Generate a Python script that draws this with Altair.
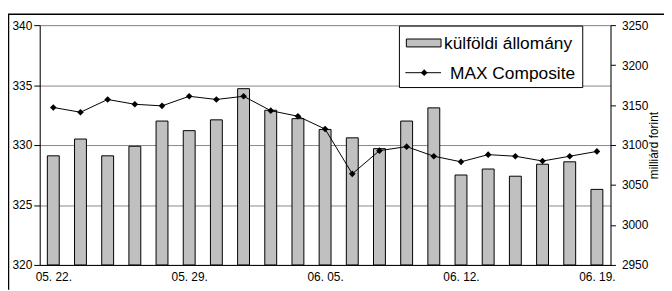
import altair as alt
import pandas as pd

dates = ["05. 22.", "05. 23.", "05. 24.", "05. 25.", "05. 26.",
         "05. 29.", "05. 30.", "05. 31.", "06. 01.", "06. 02.",
         "06. 05.", "06. 06.", "06. 07.", "06. 08.", "06. 09.",
         "06. 12.", "06. 13.", "06. 14.", "06. 15.", "06. 16.",
         "06. 19."]
holdings = [329.1, 330.5, 329.1, 329.9, 332.0, 331.2, 332.1, 334.7, 332.9, 332.2,
            331.3, 330.6, 329.7, 332.0, 333.1, 327.5, 328.0, 327.4, 328.4, 328.6,
            326.3]
max_composite = [3147, 3141, 3157, 3151, 3149, 3161, 3157, 3161, 3143, 3136,
                 3120, 3064, 3093, 3098, 3086, 3079, 3088, 3086, 3080, 3086,
                 3092]
tick_labels = ["05. 22.", "05. 29.", "06. 05.", "06. 12.", "06. 19."]
left_ticks = [320, 325, 330, 335, 340]
right_ticks = [2950, 3000, 3050, 3100, 3150, 3200, 3250]
series_names = ["külföldi állomány", "MAX Composite"]
right_title = "milliárd forint"

df = pd.DataFrame({"date": dates, "holdings": holdings, "max": max_composite})
df["base"] = left_ticks[0]
one = pd.DataFrame({"k": [0]})

FONT = "Liberation Sans"
W, H = 576, 242

x_enc = alt.X("date:O", sort=dates,
              scale=alt.Scale(type="point", padding=0.5),
              axis=alt.Axis(values=tick_labels, title=None, labelAngle=0, ticks=False,
                            labelPadding=7, domainColor="black", labelFontSize=12,
                            labelColor="black", labelFont=FONT, grid=False))

bars = alt.Chart(df).mark_bar(size=12, fill="#c0c0c0", stroke="black", strokeWidth=1).encode(
    x=x_enc,
    y=alt.Y("holdings:Q",
            scale=alt.Scale(domain=[320, 340], nice=False, zero=False),
            axis=alt.Axis(orient="left", values=left_ticks, title=None, grid=True,
                          gridColor="#888888", tickSize=6, tickColor="black",
                          domainColor="black", labelPadding=2, labelFontSize=12,
                          labelColor="black", labelFont=FONT, format="d")),
    y2="base:Q",
)

line = alt.Chart(df).mark_line(
    color="black", strokeWidth=1,
    point=alt.OverlayMarkDef(shape="diamond", size=45, filled=True, color="black"),
).encode(
    x=x_enc,
    y=alt.Y("max:Q",
            scale=alt.Scale(domain=[2950, 3250], nice=False, zero=False),
            axis=alt.Axis(orient="right", values=right_ticks, title=right_title,
                          titleAngle=270, titleX=43, titleY=H / 2, titleAlign="center",
                          titleBaseline="middle", titleFontWeight="normal",
                          titleFontSize=12, titleFont=FONT, titleColor="black",
                          grid=False, tickSize=5, tickColor="black", domainColor="black",
                          labelPadding=6, labelFontSize=12, labelColor="black",
                          labelFont=FONT, format="d")),
)

# legend box and entries
leg_box = alt.Chart(one).mark_rect(fill="white", stroke="black", strokeWidth=1).encode(
    x=alt.value(363), x2=alt.value(548), y=alt.value(1), y2=alt.value(63))
leg_sym1 = alt.Chart(one).mark_rect(fill="#c0c0c0", stroke="black", strokeWidth=1).encode(
    x=alt.value(370), x2=alt.value(405), y=alt.value(14), y2=alt.value(22))
leg_txt1 = alt.Chart(one).mark_text(align="left", baseline="alphabetic", font=FONT,
                                     fontSize=17.5, color="black").encode(
    x=alt.value(408), y=alt.value(24), text=alt.value(series_names[0]))
leg_line = alt.Chart(one).mark_rule(color="black", strokeWidth=1).encode(
    x=alt.value(369), x2=alt.value(405), y=alt.value(48))
leg_pt = alt.Chart(one).mark_point(shape="diamond", size=45, filled=True, color="black",
                                   opacity=1).encode(x=alt.value(388), y=alt.value(48))
leg_txt2 = alt.Chart(one).mark_text(align="left", baseline="alphabetic", font=FONT,
                                     fontSize=17.5, color="black").encode(
    x=alt.value(414), y=alt.value(54), text=alt.value(series_names[1]))

# outer frame lines
frame_top = alt.Chart(one).mark_rule(color="black", strokeWidth=1.5).encode(
    x=alt.value(-32), x2=alt.value(W + 60), y=alt.value(-11))
frame_left = alt.Chart(one).mark_rule(color="black", strokeWidth=1.5).encode(
    x=alt.value(-31.5), y=alt.value(-11), y2=alt.value(H + 25))

chart = alt.layer(
    frame_top, frame_left, bars, line,
    leg_box, leg_sym1, leg_txt1, leg_line, leg_pt, leg_txt2,
).resolve_scale(y="independent").properties(
    width=W, height=H,
    autosize=alt.AutoSizeParams(type="none"),
    padding={"left": 32, "top": 16, "right": 54, "bottom": 24},
).configure_view(stroke=None).configure(background="white")

chart.save("out.html", embed_options={"renderer": "svg", "actions": False})
